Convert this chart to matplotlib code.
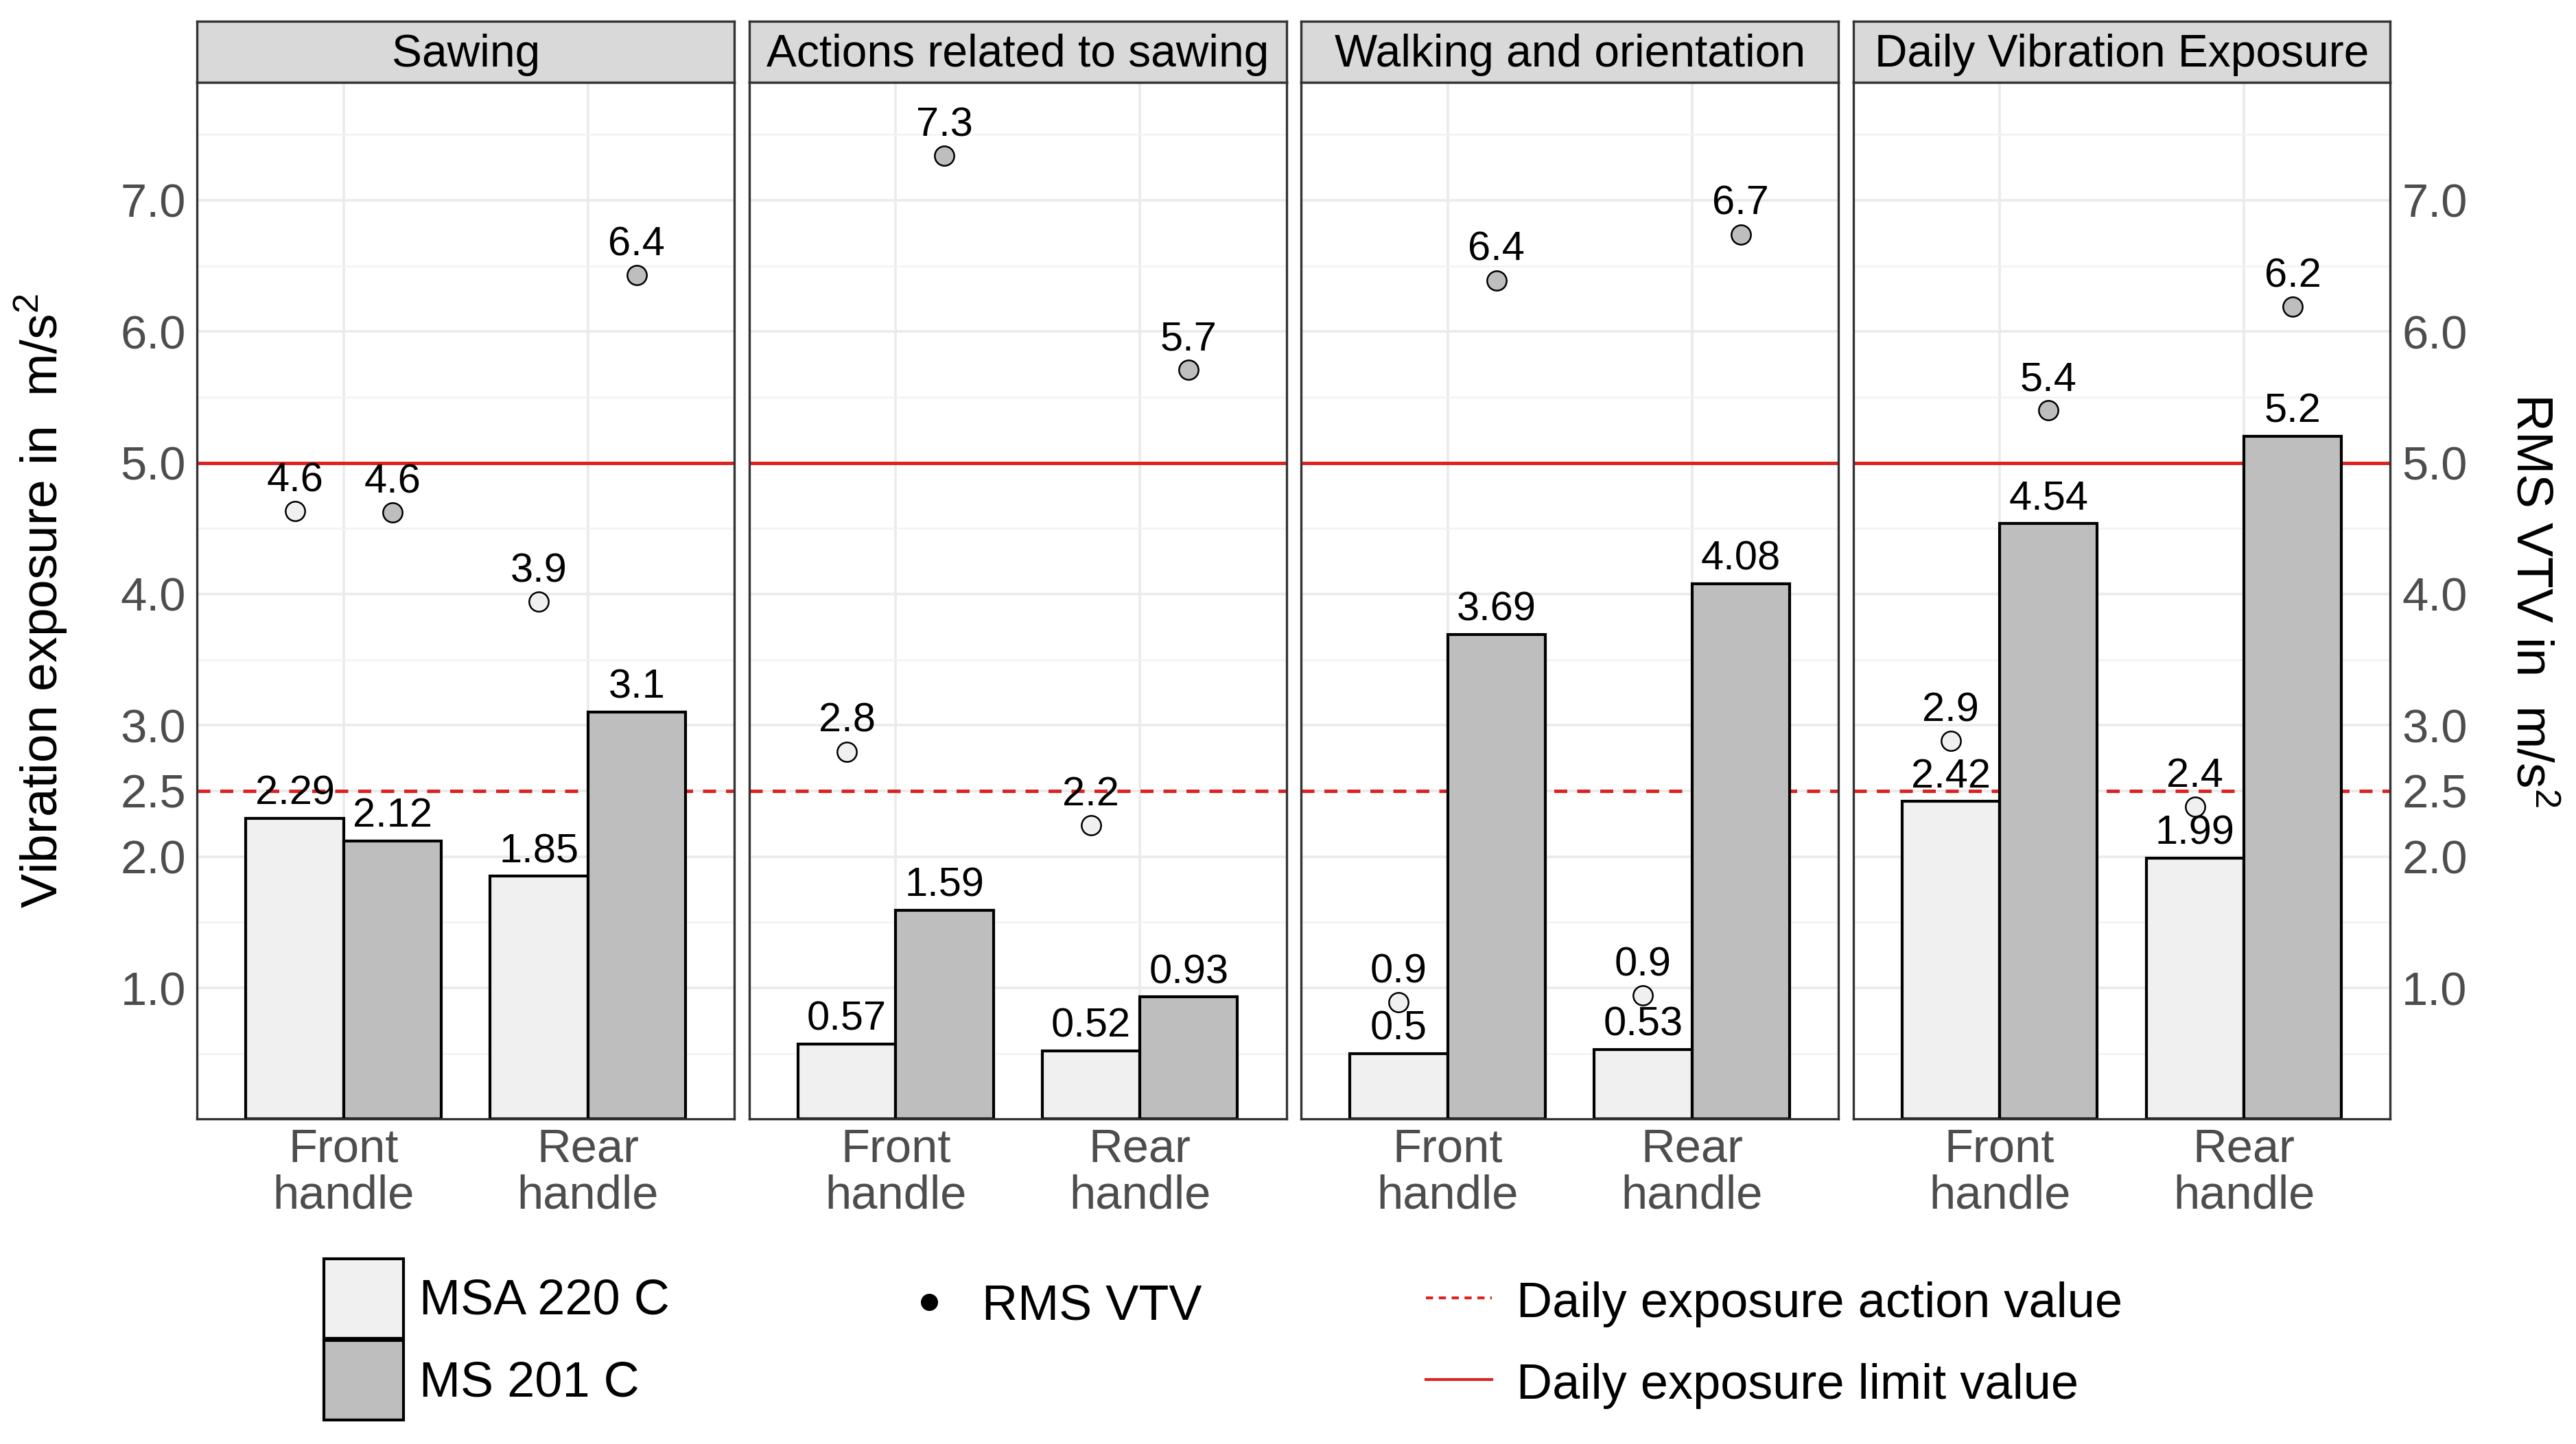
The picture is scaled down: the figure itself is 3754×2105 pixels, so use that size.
import matplotlib
matplotlib.use('Agg')
import matplotlib.pyplot as plt
import numpy as np
from matplotlib.patches import Patch
from matplotlib.lines import Line2D

plt.rcParams['font.family'] = ['Liberation Sans', 'DejaVu Sans']
plt.rcParams['mathtext.fontset'] = 'custom'
plt.rcParams['mathtext.rm'] = 'Liberation Sans'
plt.rcParams['mathtext.it'] = 'Liberation Sans:italic'

# data
panels = ['Sawing', 'Actions related to sawing', 'Walking and orientation', 'Daily Vibration Exposure']
handles = ['Front\nhandle', 'Rear\nhandle']
saws = ['MSA 220 C', 'MS 201 C']
# vibration exposure per panel: [front, rear]
a8_msa220 = [[2.29, 1.85], [0.57, 0.52], [0.50, 0.53], [2.42, 1.99]]
a8_ms201 = [[2.12, 3.10], [1.59, 0.93], [3.69, 4.08], [4.54, 5.20]]
# RMS VTV per panel: [front, rear]
vtv_msa220 = [[4.63, 3.94], [2.80, 2.24], [0.89, 0.94], [2.88, 2.38]]
vtv_ms201 = [[4.62, 6.43], [7.34, 5.71], [6.39, 6.74], [5.40, 6.19]]
action_value = 2.5
limit_value = 5.0
yticks = [1.0, 2.0, 2.5, 3.0, 4.0, 5.0, 6.0, 7.0]

c_msa = '#F0F0F0'
c_ms = '#BEBEBE'
red = '#DD2222'
dash = (0, (3.8, 2.9))
tick_col = '#4D4D4D'

fig = plt.figure(figsize=(3754 / 300, 2105 / 300), dpi=300)

L0, W, STEP = 120 / 1568, 327 / 1568, 336 / 1568
B, H = 1 - 682 / 880, (682 - 50) / 880
SH = 37 / 880

x = np.arange(len(handles))
bw = 0.4
minor = [t for t in np.arange(0.5, 8.0, 0.5) if t not in yticks]

for i, name in enumerate(panels):
    ax = fig.add_axes([L0 + i * STEP, B, W, H])
    ax.set_xlim(-0.6, 1.6)
    ax.set_ylim(0, 7.9)
    ax.set_yticks(yticks)
    ax.set_yticklabels([f'{t:.1f}' for t in yticks])
    ax.set_yticks(minor, minor=True)
    ax.set_xticks(x)
    ax.set_xticklabels(handles, linespacing=1.08)
    ax.grid(axis='both', which='major', color='#EBEBEB', lw=0.9)
    ax.grid(axis='y', which='minor', color='#F2F2F2', lw=0.6)
    ax.set_axisbelow(True)
    ax.tick_params(which='both', length=0)
    ax.tick_params(axis='y', labelsize=16.5, labelcolor=tick_col, pad=4)
    ax.tick_params(axis='x', labelsize=16.5, labelcolor=tick_col, pad=3)
    if i > 0:
        ax.tick_params(axis='y', labelleft=False)
    for s in ax.spines.values():
        s.set_color('#333333')
        s.set_linewidth(0.8)

    ax.axhline(limit_value, color=red, lw=1.2, zorder=1)
    ax.axhline(action_value, color=red, lw=1.2, ls=dash, zorder=1)

    ax.bar(x - bw / 2, a8_msa220[i], bw, color=c_msa, edgecolor='black', lw=1.0, zorder=2)
    ax.bar(x + bw / 2, a8_ms201[i], bw, color=c_ms, edgecolor='black', lw=1.0, zorder=2)
    for xs, vals in [(x - bw / 2, a8_msa220[i]), (x + bw / 2, a8_ms201[i])]:
        for xx, v in zip(xs, vals):
            ax.annotate(f'{v:g}', (xx, v), xytext=(0, 2), textcoords='offset points',
                        ha='center', va='bottom', fontsize=14.3, zorder=4)

    ax.plot(x - bw / 2, vtv_msa220[i], 'o', mfc=c_msa, mec='black', ms=6.8, mew=0.6, zorder=3)
    ax.plot(x + bw / 2, vtv_ms201[i], 'o', mfc=c_ms, mec='black', ms=6.8, mew=0.6, zorder=3)
    for xs, vals in [(x - bw / 2, vtv_msa220[i]), (x + bw / 2, vtv_ms201[i])]:
        for xx, v in zip(xs, vals):
            ax.annotate(f'{v:.1f}', (xx, v), xytext=(0, 4), textcoords='offset points',
                        ha='center', va='bottom', fontsize=14.3, zorder=4)

    strip = fig.add_axes([L0 + i * STEP, B + H, W, SH])
    strip.set_facecolor('#D9D9D9')
    strip.set_xticks([])
    strip.set_yticks([])
    for s in strip.spines.values():
        s.set_color('#333333')
        s.set_linewidth(0.8)
    strip.text(0.5, 0.45, name, ha='center', va='center', fontsize=15.8, transform=strip.transAxes)

    if i == len(panels) - 1:
        tw = ax.twinx()
        tw.set_ylim(ax.get_ylim())
        tw.set_yticks(yticks)
        tw.set_yticklabels([f'{t:.1f}' for t in yticks])
        tw.tick_params(length=0, labelsize=16.5, labelcolor=tick_col, pad=4)
        for s in tw.spines.values():
            s.set_visible(False)

ymid = B + H / 2
fig.text(25 / 1568, ymid, r'Vibration exposure in  m/s$^{2}$', rotation=90,
         ha='center', va='center', fontsize=18)
fig.text(1540 / 1568, ymid, r'RMS VTV in  m/s$^{2}$', rotation=270,
         ha='center', va='center', fontsize=18)

# legends
lfs = 17.3
top = 1 - 767 / 880
fill_handles = [Patch(facecolor=c_msa, edgecolor='black', lw=1.0),
                Patch(facecolor=c_ms, edgecolor='black', lw=1.0)]
fig.legend(fill_handles, saws, loc='upper left', bbox_to_anchor=(197 / 1568, top),
           frameon=False, fontsize=lfs, handlelength=1.61, handleheight=2.1,
           labelspacing=0.05, handletextpad=0.33, borderpad=0, borderaxespad=0)

pt_handle = [Line2D([], [], marker='o', ls='', color='black', ms=5)]
leg_pt = fig.legend(pt_handle, ['RMS VTV'], loc='upper left', bbox_to_anchor=(550 / 1568, top - 0.004),
                    frameon=False, fontsize=lfs, handlelength=1.04, handleheight=2.1,
                    handletextpad=0.54, borderpad=0, borderaxespad=0)
dot = leg_pt.legend_handles[0]
dot.set_ydata(np.asarray(dot.get_ydata()) - 3.4)

line_handles = [Line2D([], [], color=red, lw=1.0, ls=(0, (2.5, 2))),
                Line2D([], [], color=red, lw=1.0)]
leg_ln = fig.legend(line_handles, ['Daily exposure action value', 'Daily exposure limit value'],
                    loc='upper left', bbox_to_anchor=(868 / 1568, top - 0.002),
                    frameon=False, fontsize=lfs, handlelength=1.33, handleheight=2.1,
                    labelspacing=0.05, handletextpad=0.5, borderpad=0, borderaxespad=0)
for ln in leg_ln.legend_handles:
    ln.set_ydata(np.asarray(ln.get_ydata()) - 3.0)

fig.savefig('out.png', dpi=300)
